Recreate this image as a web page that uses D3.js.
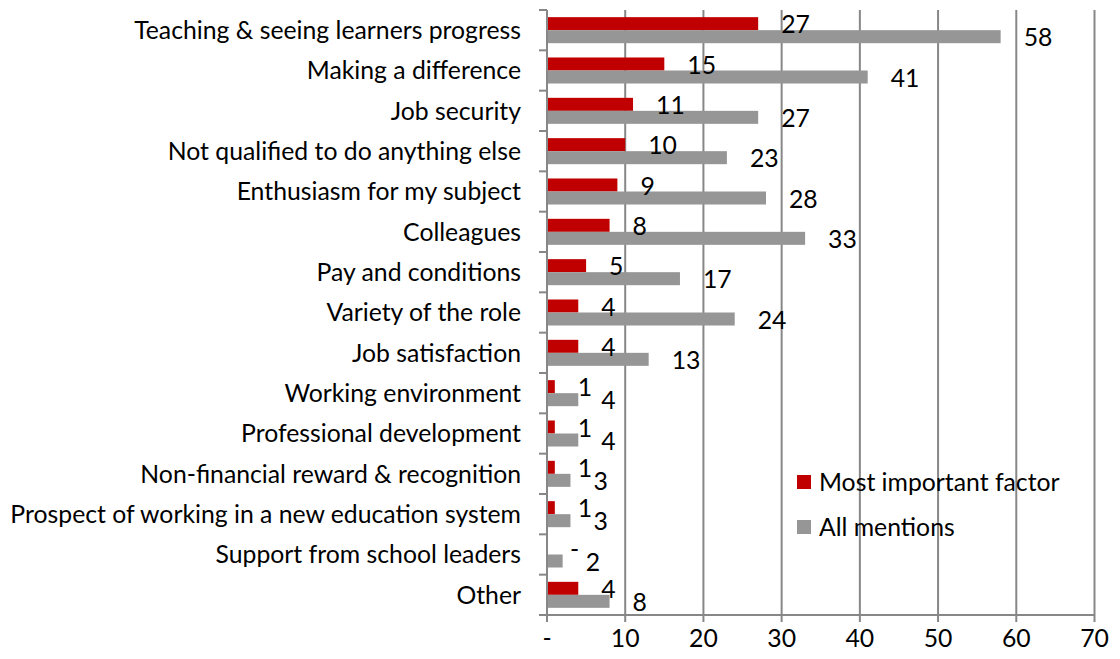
<!DOCTYPE html>
<html>
<head>
<meta charset="utf-8">
<script src="https://cdn.jsdelivr.net/npm/d3@7"></script>
<style>
  body { margin: 0; background: #fff; }
  svg { display: block; }
  text { font-family: Lato, "Open Sans", sans-serif; fill: #000; }
</style>
</head>
<body>
<div id="chart"></div>
<script>
// categories top to bottom
const categories = [
    "Teaching & seeing learners progress",
    "Making a difference",
    "Job security",
    "Not qualified to do anything else",
    "Enthusiasm for my subject",
    "Colleagues",
    "Pay and conditions",
    "Variety of the role",
    "Job satisfaction",
    "Working environment",
    "Professional development",
    "Non-financial reward & recognition",
    "Prospect of working in a new education system",
    "Support from school leaders",
    "Other"
];
const mostImportant = [27, 15, 11, 10, 9, 8, 5, 4, 4, 1, 1, 1, 1, 0, 4];
const allMentions   = [58, 41, 27, 23, 28, 33, 17, 24, 13, 4, 4, 3, 3, 2, 8];
const seriesNames = ["Most important factor", "All mentions"];
const seriesColors = ["#C00000", "#969696"];
const xTicks = [0, 10, 20, 30, 40, 50, 60, 70];

const width = 1120, height = 659;
const pLeft = 547, pRight = 1094.5, pTop = 10, pBottom = 615;

const svg = d3.select("#chart").append("svg")
    .attr("width", width)
    .attr("height", height);

// fit font size so the longest label has the width of the original
const probe = svg.append("text").attr("font-size", 20).text(categories[12]);
const fs = 20 * 511 / probe.node().getComputedTextLength();
probe.remove();

const x = d3.scaleLinear().domain([0, 70]).range([pLeft, pRight]);
const y = d3.scaleBand().domain(categories).range([pTop, pBottom]);
const sub = d3.scaleBand().domain([0, 1]).range([0, y.bandwidth()]).paddingOuter(0.55);

const gridColor = "#878787";

// vertical gridlines
svg.append("g")
    .selectAll("line")
    .data(xTicks.slice(1))
    .join("line")
        .attr("x1", d => x(d)).attr("x2", d => x(d))
        .attr("y1", pTop).attr("y2", pBottom)
        .attr("stroke", gridColor)
        .attr("stroke-width", 2);

// bars
const rows = categories.map((c, i) => ({name: c, vals: [mostImportant[i], allMentions[i]]}));

const group = svg.append("g")
    .selectAll("g")
    .data(rows)
    .join("g")
        .attr("transform", d => `translate(0,${y(d.name)})`);

group.selectAll("rect")
    .data(d => d.vals.map((v, k) => ({v, k})))
    .join("rect")
        .attr("x", x(0))
        .attr("y", d => sub(d.k))
        .attr("width", d => x(d.v) - x(0))
        .attr("height", sub.bandwidth())
        .attr("fill", d => seriesColors[d.k]);

group.selectAll("text")
    .data(d => d.vals.map((v, k) => ({v, k})))
    .join("text")
        .attr("x", d => x(d.v) + 23)
        .attr("y", d => sub(d.k) + sub.bandwidth() / 2 + 1)
        .attr("dy", "0.35em")
        .attr("font-size", fs)
        .text(d => d.v === 0 ? "-" : d.v);

// y axis
const yAxis = svg.append("g");
yAxis.append("line")
    .attr("x1", pLeft).attr("x2", pLeft)
    .attr("y1", pTop).attr("y2", pBottom + 7)
    .attr("stroke", gridColor).attr("stroke-width", 2);
yAxis.selectAll("line.tick")
    .data(d3.range(categories.length + 1))
    .join("line")
        .attr("class", "tick")
        .attr("x1", pLeft - 8).attr("x2", pLeft)
        .attr("y1", i => pTop + i * y.step())
        .attr("y2", i => pTop + i * y.step())
        .attr("stroke", gridColor).attr("stroke-width", 2);
yAxis.selectAll("text")
    .data(categories)
    .join("text")
        .attr("x", 521)
        .attr("y", d => y(d) + y.bandwidth() / 2)
        .attr("dy", "0.35em")
        .attr("text-anchor", "end")
        .attr("font-size", fs)
        .text(d => d);

// x axis
const xAxis = svg.append("g");
xAxis.append("line")
    .attr("x1", pLeft - 8).attr("x2", pRight)
    .attr("y1", pBottom).attr("y2", pBottom)
    .attr("stroke", gridColor).attr("stroke-width", 2);
xAxis.selectAll("line.tick")
    .data(xTicks)
    .join("line")
        .attr("class", "tick")
        .attr("x1", d => x(d)).attr("x2", d => x(d))
        .attr("y1", pBottom).attr("y2", pBottom + 7)
        .attr("stroke", gridColor).attr("stroke-width", 2);
xAxis.selectAll("text")
    .data(xTicks)
    .join("text")
        .attr("x", d => x(d))
        .attr("y", 638)
        .attr("dy", "0.35em")
        .attr("text-anchor", "middle")
        .attr("font-size", fs)
        .text(d => d === 0 ? "-" : d);

// legend
const legend = svg.append("g")
    .selectAll("g")
    .data(seriesNames)
    .join("g")
        .attr("transform", (d, i) => `translate(797,${475 + i * 45})`);
legend.append("rect")
    .attr("width", 14).attr("height", 14)
    .attr("fill", (d, i) => seriesColors[i]);
legend.append("text")
    .attr("x", 22)
    .attr("y", 7)
    .attr("dy", "0.35em")
    .attr("font-size", fs)
    .text(d => d);
</script>
</body>
</html>
